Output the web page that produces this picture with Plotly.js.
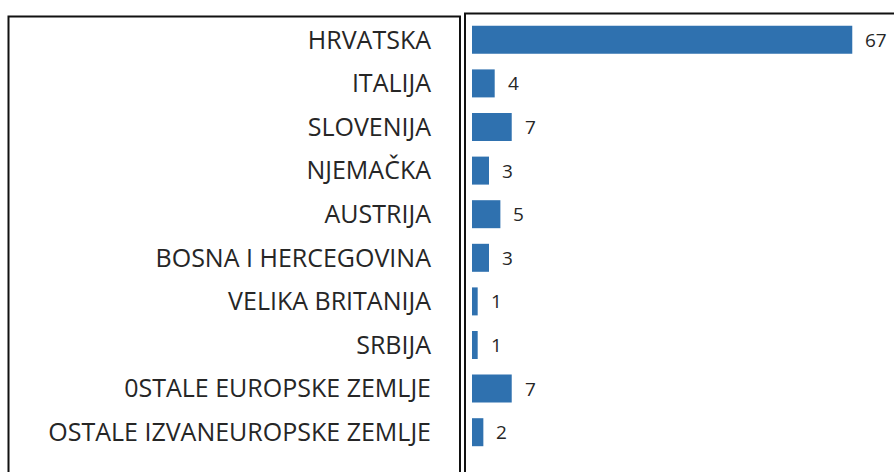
<!DOCTYPE html>
<html>
<head>
<meta charset="utf-8">
<script src="https://cdn.plot.ly/plotly-3.0.1.min.js"></script>
<style>html,body{margin:0;padding:0;background:#fff;}#chart{width:894px;height:472px;}</style>
</head>
<body>
<div id="chart"></div>
<script>
const countries = ["HRVATSKA","ITALIJA","SLOVENIJA","NJEMAČKA","AUSTRIJA","BOSNA I HERCEGOVINA","VELIKA BRITANIJA","SRBIJA","0STALE EUROPSKE ZEMLJE","OSTALE IZVANEUROPSKE ZEMLJE"];
const values = [67,4,7,3,5,3,1,1,7,2];

const trace = {
  type: 'bar',
  orientation: 'h',
  x: values,
  y: countries,
  marker: {color: '#2F71AF'},
  hoverinfo: 'none'
};

const annotations = values.map((v, i) => ({
  x: v, y: countries[i], xref: 'x', yref: 'y',
  text: String(v), showarrow: false, xanchor: 'left', xshift: 11,
  font: {family: 'Open Sans', size: 19, color: '#262626'}
}));

const px2x = p => (p - 472) / 420;
const px2y = p => (454 - p) / 436;

const layout = {
  width: 894, height: 472,
  margin: {l: 472, r: 2, t: 18, b: 18},
  paper_bgcolor: '#fff', plot_bgcolor: '#fff',
  showlegend: false,
  bargap: 0.358,
  xaxis: {range: [0, 74], visible: false, fixedrange: true},
  yaxis: {
    autorange: 'reversed', showgrid: false, zeroline: false, showline: false,
    ticks: '', ticklabelstandoff: 40,
    tickfont: {family: 'Open Sans', size: 25, color: '#262626'}
  },
  annotations: annotations,
  shapes: [
    {type: 'rect', xref: 'paper', yref: 'paper', x0: px2x(8.5), x1: px2x(460), y0: px2y(490), y1: px2y(16.5), line: {color: '#111', width: 2}},
    {type: 'rect', xref: 'paper', yref: 'paper', x0: px2x(465), x1: px2x(910), y0: px2y(490), y1: px2y(13.5), line: {color: '#111', width: 2}}
  ]
};

Plotly.newPlot('chart', [trace], layout, {displayModeBar: false, staticPlot: true});
</script>
</body>
</html>
